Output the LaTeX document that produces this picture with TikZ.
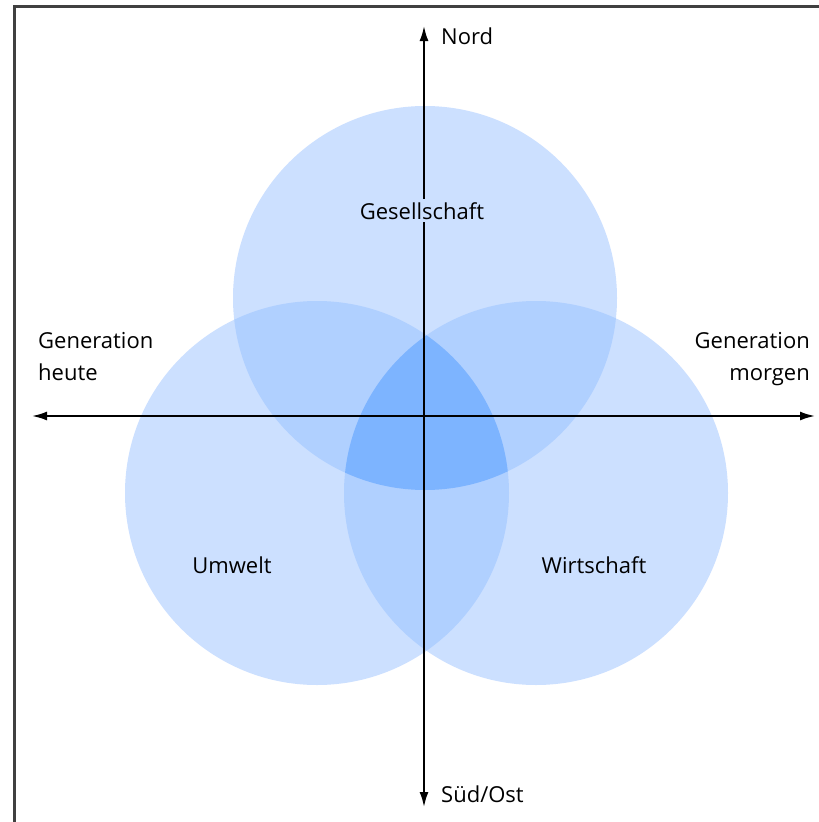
\documentclass[tikz,border=0pt]{standalone}
\usepackage{fontspec}
\setmainfont{Open Sans}
\usetikzlibrary{positioning,arrows.meta}

\definecolor{einfach}{HTML}{CCE0FF}
\definecolor{doppelt}{HTML}{B0D0FF}
\definecolor{dreifach}{HTML}{7DB4FF}

\tikzset{
    achse/.style={line width=2pt, -{Latex[length=15pt,width=9pt]}},
    rahmen/.style={line width=3pt, black!75},
    beschriftung/.style={font=\fontsize{22}{32}\selectfont, inner sep=0pt, text=black}
}

\begin{document}
\begin{tikzpicture}[x=1pt, y=1pt]
        \useasboundingbox (0,0) rectangle (819,-822);
        \clip (0,0) rectangle (819,-822);
        \fill[white] (0,0) rectangle (819,-822);
        \draw[rahmen] (14,-6) rectangle (850,-850);

        % Kreismittelpunkte
        \coordinate (ges) at (425,-298);
        \coordinate (umw) at (317,-493);
        \coordinate (wir) at (536,-493);

        % einfache Flaechen
        \foreach \c in {ges, umw, wir} {
            \fill[einfach] (\c) circle (192pt);
        }
        % Schnitt von je zwei Kreisen
        \begin{scope}
            \clip (ges) circle (192pt);
            \fill[doppelt] (umw) circle (192pt);
            \fill[doppelt] (wir) circle (192pt);
        \end{scope}
        \begin{scope}
            \clip (umw) circle (192pt);
            \fill[doppelt] (wir) circle (192pt);
        \end{scope}
        % Schnitt aller drei
        \begin{scope}
            \clip (ges) circle (192pt);
            \clip (umw) circle (192pt);
            \fill[dreifach] (wir) circle (192pt);
        \end{scope}

        % Achsen
        \coordinate (mitte) at (424,-416);
        \coordinate (nord) at (424,-26);
        \coordinate (sued) at (424,-807);
        \coordinate (heute) at (32,-416);
        \coordinate (morgen) at (815,-416);
        \draw[achse] (mitte) -- (nord);
        \draw[achse] (mitte) -- (sued);
        \draw[achse] (mitte) -- (heute);
        \draw[achse] (mitte) -- (morgen);

        \node[beschriftung, anchor=base west] (lnord) at (441,-44) {Nord};
        \node[beschriftung, anchor=base west] (lsued) at (441,-802) {Süd/Ost};
        \node[beschriftung, anchor=base west, align=left] (lheute) at (38,-380) {Generation\\heute};
        \node[beschriftung, anchor=base east, align=right] (lmorgen) at (810,-380) {Generation\\morgen};

        \node[beschriftung, anchor=base, fill=einfach, inner sep=3pt] (lges) at (422,-219) {Gesellschaft};
        \node[beschriftung, anchor=base] (lumw) at (232,-573) {Umwelt};
        \node[beschriftung, anchor=base] (lwir) at (594,-573) {Wirtschaft};
    \end{tikzpicture}
\end{document}
